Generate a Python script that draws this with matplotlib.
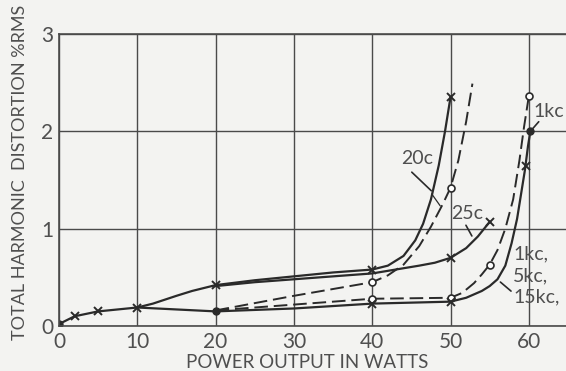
import matplotlib
matplotlib.use("Agg")
import matplotlib.pyplot as plt

# ---- data (watts, % RMS) ----
# 20 c, solid curve (x markers)
w_20c_solid = [0, 2, 5, 10, 12, 15, 17, 20, 25, 30, 35, 40, 42, 44, 45.5, 46.5,
               47.5, 48.5, 49.3, 50]
d_20c_solid = [0.02, 0.1, 0.15, 0.19, 0.23, 0.31, 0.36, 0.42, 0.47, 0.51, 0.55,
               0.58, 0.62, 0.72, 0.88, 1.05, 1.3, 1.65, 2.0, 2.35]
m_20c_solid_w = [2, 5, 10, 20, 40, 50]
m_20c_solid_d = [0.1, 0.15, 0.19, 0.42, 0.58, 2.35]

# 20 c, dashed curve (circle markers)
w_20c_dash = [20, 30, 40, 42, 44, 46, 47.5, 49, 50, 51, 52, 52.8]
d_20c_dash = [0.16, 0.31, 0.45, 0.52, 0.63, 0.82, 1.02, 1.25, 1.42, 1.7, 2.1, 2.49]
m_20c_dash_w = [40, 50]
m_20c_dash_d = [0.45, 1.42]

# 25 c, solid curve
w_25c = [20, 25, 30, 35, 40, 43, 46, 48, 50, 52, 53.5, 55]
d_25c = [0.41, 0.45, 0.48, 0.51, 0.54, 0.58, 0.62, 0.65, 0.70, 0.8, 0.92, 1.07]
m_25c_w = [50, 55]
m_25c_d = [0.70, 1.07]

# 1 kc, dashed curve (circle markers)
w_1kc_dash = [20, 30, 40, 50, 51.5, 53, 54, 55, 56, 57, 58, 58.8, 59.4, 60]
d_1kc_dash = [0.16, 0.22, 0.28, 0.29, 0.34, 0.44, 0.53, 0.63, 0.78, 1.0, 1.3,
              1.7, 2.05, 2.36]
m_1kc_dash_w = [40, 50, 55, 60]
m_1kc_dash_d = [0.28, 0.29, 0.63, 2.36]

# 1 kc / 5 kc / 15 kc, solid curve
w_kc_solid = [10, 20, 30, 40, 50, 52, 54, 55, 56, 57, 57.8, 58.5, 59, 59.5,
              59.9, 60.2]
d_kc_solid = [0.19, 0.15, 0.18, 0.23, 0.25, 0.29, 0.36, 0.41, 0.48, 0.62, 0.85,
              1.1, 1.35, 1.6, 1.85, 2.0]
m_kc_solid_w = [40, 50, 59.7]
m_kc_solid_d = [0.23, 0.25, 1.64]
m_dot_w = [0, 20, 60.2]
m_dot_d = [0.02, 0.15, 2.0]

x_ticks = [0, 10, 20, 30, 40, 50, 60]
y_ticks = [0, 1, 2, 3]

ink = "#2a2a2a"
txt = "#4f4f4f"
bg = "#f3f3f1"
font = ["Lato", "DejaVu Sans"]

fig = plt.figure(figsize=(5.66, 3.71), dpi=100, facecolor=bg)
ax = fig.add_axes([0.1042, 0.1213, 0.8958, 0.7871], facecolor=bg)
ax.set_xlim(0, 64.75)
ax.set_ylim(0, 3)

ax.set_xticks(x_ticks)
ax.set_yticks(y_ticks)
ax.set_xticklabels([str(v) for v in x_ticks])
ax.set_yticklabels([str(v) for v in y_ticks])
ax.tick_params(length=0, labelsize=15, colors=txt, pad=4)
for lab in ax.get_xticklabels() + ax.get_yticklabels():
    lab.set_family(font)
ax.grid(True, color="#4a4a4a", linewidth=1.0)
for s in ["top", "left", "bottom"]:
    ax.spines[s].set_color("#4a4a4a")
    ax.spines[s].set_linewidth(1.2)
ax.spines["right"].set_visible(False)

lw = 1.6
ax.plot(w_20c_solid, d_20c_solid, color=ink, lw=lw)
ax.plot(m_20c_solid_w, m_20c_solid_d, "x", color=ink, ms=6, mew=1.4)
ax.plot(w_20c_dash, d_20c_dash, color=ink, lw=1.4, dashes=(7, 3))
ax.plot(m_20c_dash_w, m_20c_dash_d, "o", mfc="white", mec=ink, ms=5, mew=1.2)
ax.plot(w_25c, d_25c, color=ink, lw=lw)
ax.plot(m_25c_w, m_25c_d, "x", color=ink, ms=6, mew=1.4)
ax.plot(w_1kc_dash, d_1kc_dash, color=ink, lw=1.4, dashes=(7, 3))
ax.plot(m_1kc_dash_w, m_1kc_dash_d, "o", mfc="white", mec=ink, ms=5, mew=1.2)
ax.plot(w_kc_solid, d_kc_solid, color=ink, lw=lw)
ax.plot(m_kc_solid_w, m_kc_solid_d, "x", color=ink, ms=6, mew=1.4)
ax.plot(m_dot_w, m_dot_d, "o", color=ink, ms=5)

# labels with pointer lines
fs = 14
tkw = dict(fontsize=fs, color=txt, family=font)
pk = dict(arrowstyle="-", color=ink, lw=1.2)
ax.text(45.7, 1.72, "20c", ha="center", va="center", **tkw)
ax.annotate("", xy=(47.8, 1.37), xytext=(44.8, 1.60), arrowprops=pk)
ax.annotate("", xy=(48.9, 1.21), xytext=(47.4, 1.38), arrowprops=dict(pk, lw=0.9))
ax.text(52.1, 1.16, "25c", ha="center", va="center", **tkw)
ax.annotate("", xy=(52.9, 0.9), xytext=(51.8, 1.06), arrowprops=pk)
ax.text(62.6, 2.2, "1kc", ha="center", va="center", **tkw)
ax.annotate("", xy=(60.2, 2.0), xytext=(61.5, 2.12), arrowprops=pk)
ax.text(58.0, 0.52, "1kc,\n5kc,\n15kc,", ha="left", va="center",
        linespacing=1.3, **tkw)
ax.annotate("", xy=(56.1, 0.47), xytext=(58.0, 0.34), arrowprops=pk)

ax.set_xlabel("POWER OUTPUT IN WATTS", fontsize=13.5, color=txt, family=font)
ax.xaxis.set_label_coords((307 - 59) / 507, -0.095)
fig.text(20 / 566, 1 - 172 / 371, "TOTAL HARMONIC  DISTORTION %RMS",
         rotation=90, fontsize=13, color=txt, ha="center", va="center",
         family=font)

fig.savefig("out.png", dpi=100, facecolor=bg)
